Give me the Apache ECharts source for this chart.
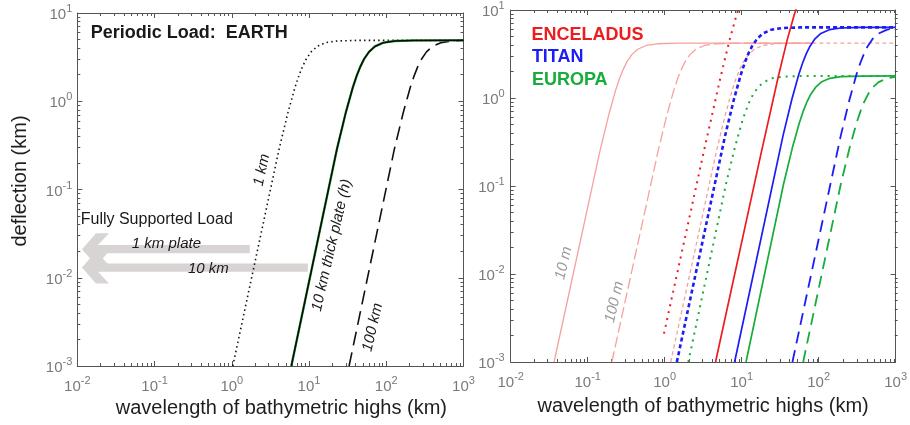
<!DOCTYPE html>
<html><head><meta charset="utf-8">
<script src="https://cdn.jsdelivr.net/npm/echarts@6/dist/echarts.min.js"></script>
<style>html,body{margin:0;padding:0;background:#fff}#c{width:910px;height:425px}</style>
</head><body><div id="c"></div>
<script>
// ---------- tick values ----------
const xMajor = [0.01, 0.1, 1, 10, 100, 1000];
const yMajor = [0.001, 0.01, 0.1, 1, 10];
const xMinor = [];
for (let e = -2; e < 3; e++) for (let m = 2; m <= 9; m++) xMinor.push(+(m * Math.pow(10, e)).toPrecision(3));
const yMinor = [];
for (let e = -3; e < 1; e++) for (let m = 2; m <= 9; m++) yMinor.push(+(m * Math.pow(10, e)).toPrecision(3));

// ---------- EARTH panel (wavelength km, deflection km) ----------
const earth1km = [[1.03,0.001],[4.1,0.288],[5.33,0.742],[6.56,1.424],[7.38,1.941],[8.2,2.45],[9.18,2.996],[10.66,3.629],[12.71,4.176],[16.4,4.612],[22.96,4.822],[41,4.892],[1000,4.9]];
const earth10km = [[5.9,0.001],[23,0.288],[29.9,0.742],[36.8,1.424],[41.4,1.941],[46,2.45],[51.5,2.996],[59.8,3.629],[71.3,4.176],[92,4.612],[128.8,4.822],[230,4.892],[1000,4.9]];
const earth100km = [[33,0.001],[127.5,0.288],[165.8,0.742],[204,1.424],[229.5,1.941],[255,2.45],[285.6,2.996],[331.5,3.629],[395,4.176],[510,4.612],[714,4.822],[1000,4.88]];

// ---------- icy moons panel ----------
const encel10m = [[0.0366,0.001],[0.144,0.247],[0.1872,0.636],[0.2304,1.22],[0.2592,1.664],[0.288,2.1],[0.3226,2.568],[0.3744,3.111],[0.4464,3.58],[0.576,3.953],[0.8064,4.133],[1.44,4.193],[80,4.2]];
const encel100m = [[0.206,0.001],[0.82,0.247],[1.066,0.636],[1.312,1.22],[1.476,1.664],[1.64,2.1],[1.837,2.568],[2.132,3.111],[2.542,3.58],[3.28,3.953],[4.592,4.133],[8.2,4.193],[80,4.2]];
const encel1km = [[1.2,0.001],[4.7,0.247],[6.11,0.636],[7.52,1.22],[8.46,1.664],[9.4,2.1],[10.53,2.568],[12.22,3.111],[14.57,3.58],[18.8,3.953],[26.32,4.133],[47,4.193],[1000,4.2]];
const enceladusDot = [[0.98,0.0021],[3.21,0.241],[5.35,1.765],[6.96,4.545],[8.56,8.72],[9.63,11.89],[10.7,15]];
const enceladusSolid = [[4.58,0.001],[18,0.241],[30,1.765],[39,4.545],[48,8.72],[54,11.89],[60,15]];
const titanDot = [[1.44,0.001],[6.1,0.3734],[7.93,0.962],[9.76,1.845],[10.98,2.516],[12.2,3.175],[13.66,3.882],[15.86,4.703],[18.91,5.412],[24.4,5.977],[34.16,6.248],[61,6.34],[1000,6.35]];
const titanSolid = [[8.1,0.001],[34.5,0.3734],[44.85,0.962],[55.2,1.845],[62.1,2.516],[69,3.175],[77.28,3.882],[89.7,4.703],[106.95,5.412],[138,5.977],[193.2,6.248],[345,6.34],[1000,6.35]];
const titanDash = [[45.7,0.001],[194,0.3734],[252,0.962],[310,1.845],[349,2.516],[388,3.175],[434.6,3.882],[504.4,4.703],[601.4,5.412],[776,5.977],[1000,6.21]];
const europaDot = [[2.03,0.001],[6.25,0.1047],[8.125,0.2697],[10,0.5173],[11.25,0.7052],[12.5,0.89],[14,1.088],[16.25,1.318],[19.375,1.517],[25,1.675],[35,1.752],[62.5,1.777],[1000,1.78]];
const europaSolid = [[11.4,0.001],[35,0.1047],[45.5,0.2697],[56,0.5173],[63,0.7052],[70,0.89],[78.4,1.088],[91,1.318],[108.5,1.517],[140,1.675],[196,1.752],[350,1.777],[1000,1.78]];
const europaDash = [[63,0.001],[194,0.1047],[252.2,0.2697],[310.4,0.5173],[349.2,0.7052],[388,0.89],[434.6,1.088],[504.4,1.318],[601.4,1.517],[776,1.675],[1000,1.741]];

// ---------- styling ----------
const F = '"Liberation Sans", Arial, Helvetica, sans-serif';
const AX = '#555';
const LBL = '#7a7a7a';
const RED = '#ee1d1d', BLUE = '#1c1cf5', GREEN = '#16ad3a', PINK = '#f6a19c';

const grids = [
  {left: 77.3, top: 13, width: 386.2, height: 353},
  {left: 510.7, top: 10, width: 387, height: 352}
];

const rich = {
  b: {fontSize: 15, color: LBL, fontFamily: F, padding: [4, 0, 0, 0]},
  s: {fontSize: 11, color: LBL, fontFamily: F, padding: [0, 0, 8, 0]}
};
const fmt = v => '{b|10}{s|' + Math.round(Math.log10(v)) + '}';

function axis(kind, gi, pos, major, labels, extra) {
  const isX = kind === 'x';
  const o = {
    type: 'log', logBase: 10, gridIndex: gi, position: pos,
    min: isX ? 0.01 : 0.001, max: isX ? 1000 : 10,
    axisLine: {show: major, onZero: false, lineStyle: {color: AX, width: 1}},
    axisTick: {show: true, inside: true, length: major ? 5 : 3,
      customValues: major ? (isX ? xMajor : yMajor) : (isX ? xMinor : yMinor),
      lineStyle: {color: AX, width: 1}},
    axisLabel: labels ? {show: true, customValues: isX ? xMajor : yMajor, formatter: fmt, rich: rich,
      margin: isX ? 9 : 5, showMinLabel: true, showMaxLabel: true} : {show: false},
    splitLine: {show: false}, minorTick: {show: false}, minorSplitLine: {show: false}
  };
  return Object.assign(o, extra || {});
}

const xName = (pad) => ({name: 'wavelength of bathymetric highs (km)', nameLocation: 'middle',
  nameTextStyle: {fontSize: 20, color: '#1e1e1e', fontFamily: F, padding: pad}});

const xAxes = [
  axis('x', 0, 'bottom', true, true, Object.assign(xName([0, 0, 0, 22]), {nameGap: 30})),
  axis('x', 0, 'top', true, false),
  axis('x', 1, 'bottom', true, true, Object.assign(xName([0, 0, 0, 0]), {nameGap: 34})),
  axis('x', 1, 'top', true, false),
  axis('x', 2, 'bottom', false, false),
  axis('x', 2, 'top', false, false),
  axis('x', 3, 'bottom', false, false),
  axis('x', 3, 'top', false, false)
];
const yAxes = [
  axis('y', 0, 'left', true, true),
  axis('y', 0, 'right', true, false),
  axis('y', 1, 'left', true, true, {axisLabel: {show: true, customValues: yMajor, formatter: fmt, rich: rich, margin: 6, showMinLabel: true, showMaxLabel: true}}),
  axis('y', 1, 'right', true, false),
  axis('y', 2, 'left', false, false),
  axis('y', 2, 'right', false, false),
  axis('y', 3, 'left', false, false),
  axis('y', 3, 'right', false, false)
];

function line(data, ai, color, width, type, z, cap) {
  return {type: 'line', data: data, xAxisIndex: ai, yAxisIndex: ai, symbol: 'none', showSymbol: false,
    smooth: false, clip: true, silent: true, animation: false, z: z || 3,
    lineStyle: {color: color, width: width, type: type || 'solid', cap: cap || 'butt', join: 'round'}};
}

const series = [
  line(earth1km, 0, '#111', 1.6, [1.5, 3.2]),
  line(earth100km, 0, '#111', 1.6, [14, 7]),
  line(earth10km, 0, '#2b9b3b', 2.4, 'solid', 3),
  line(earth10km, 0, '#0a0a0a', 1.5, 'solid', 4),

  line(encel10m, 2, PINK, 1.3),
  line(encel100m, 2, PINK, 1.3, [11, 4]),
  line(encel1km, 2, PINK, 1.3, [4, 3]),
  line(europaDot, 2, GREEN, 2, [2, 5]),
  line(europaSolid, 2, GREEN, 1.7),
  line(europaDash, 2, GREEN, 1.8, [12, 7]),
  line(titanDot, 2, BLUE, 2.6, [4, 3]),
  line(titanSolid, 2, BLUE, 1.7),
  line(titanDash, 2, BLUE, 1.8, [12, 7]),
  line(enceladusDot, 2, RED, 2, [2, 5]),
  line(enceladusSolid, 2, RED, 1.7)
];

const chart = echarts.init(document.getElementById('c'), null, {renderer: 'canvas'});
chart.setOption({
  animation: false,
  backgroundColor: '#fff',
  textStyle: {fontFamily: F},
  grid: [grids[0], grids[1], grids[0], grids[1]].map(g => Object.assign({containLabel: false}, g)),
  xAxis: xAxes, yAxis: yAxes, series: series
});

// ---------- annotations in data coordinates ----------
const P = (panel, pt) => chart.convertToPixel({xAxisIndex: panel * 2, yAxisIndex: panel * 2}, pt);
const deg = d => d * Math.PI / 180;
function txt(panel, pt, text, o) {
  const p = P(panel, pt);
  return {type: 'text', x: p[0], y: p[1], rotation: o.rot ? deg(o.rot) : 0, z: 20, silent: true,
    style: {text: text, fill: o.color || '#1a1a1a', fontSize: o.size || 15, fontWeight: o.bold ? 'bold' : 'normal',
      fontStyle: o.italic ? 'italic' : 'normal', fontFamily: F, align: o.align || 'center', verticalAlign: 'middle'}};
}
function arrow(panel, tipPt, endPt) {
  const a = P(panel, tipPt), b = P(panel, endPt);
  const L = b[0] - a[0];
  const rel = [[0,0],[14,-16],[27,-16],[16,-4.2],[L,-4.2],[L,4.2],[16,4.2],[27,16],[14,16]];
  return {type: 'polygon', z: 1, silent: true, shape: {points: rel.map(q => [a[0] + q[0], a[1] + q[1]])},
    style: {fill: '#d9d4d4'}};
}
const graphics = [
  arrow(0, [0.0115, 0.0211], [1.71, 0.0211]),
  arrow(0, [0.0115, 0.01303], [9.66, 0.01303]),
  txt(0, [0.0149, 6.0], 'Periodic Load:  EARTH', {bold: true, size: 18, align: 'left'}),
  txt(0, [2.45, 0.166], '1 km', {italic: true, rot: 78}),
  txt(0, [19.7, 0.0234], '10 km thick plate (h)', {italic: true, rot: 77}),
  txt(0, [66.8, 0.00275], '100 km', {italic: true, rot: 77}),
  txt(0, [0.01107, 0.0461], 'Fully Supported Load', {size: 16, align: 'left'}),
  txt(0, [0.1426, 0.024], '1 km plate', {italic: true}),
  txt(0, [0.498, 0.01253], '10 km', {italic: true}),
  txt(1, [0.01868, 5.2], 'ENCELADUS', {bold: true, size: 18, align: 'left', color: RED}),
  txt(1, [0.01884, 2.92], 'TITAN', {bold: true, size: 18, align: 'left', color: BLUE}),
  txt(1, [0.01884, 1.6], 'EUROPA', {bold: true, size: 18, align: 'left', color: GREEN}),
  txt(1, [0.0489, 0.01333], '10 m', {italic: true, rot: 77, color: '#9a9a9a'}),
  txt(1, [0.2226, 0.00481], '100 m', {italic: true, rot: 77, color: '#9a9a9a'}),
  {type: 'text', x: 20, y: 181, rotation: Math.PI / 2, z: 20, silent: true,
   style: {text: 'deflection (km)', fill: '#1e1e1e', fontSize: 20, fontFamily: F, align: 'center', verticalAlign: 'middle'}}
];
chart.setOption({graphic: graphics});
</script>
</body></html>
